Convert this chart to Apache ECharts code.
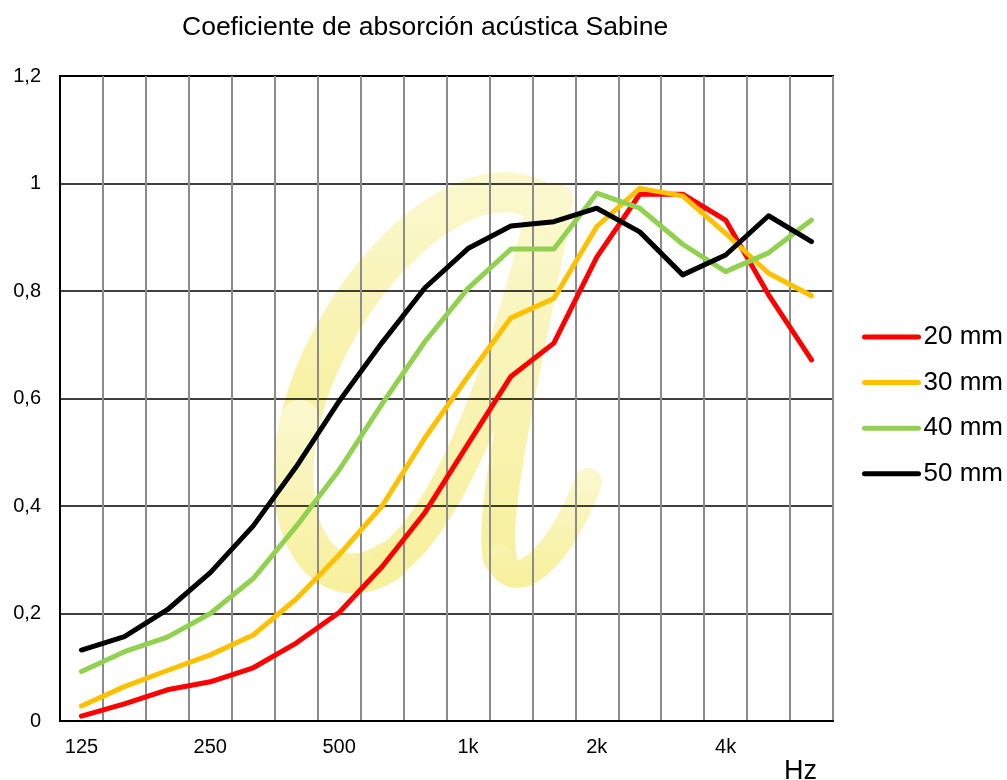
<!DOCTYPE html>
<html lang="es">
<head>
  <meta charset="UTF-8" />
  <title>Coeficiente de absorción acústica Sabine</title>
  <style>
    html, body { margin: 0; padding: 0; background: #fff; }
    #chart { width: 1007px; height: 780px; }
  </style>
  <script src="https://cdn.jsdelivr.net/npm/echarts@6/dist/echarts.min.js"></script>
</head>
<body>
  <div id="chart"></div>

  <script>
    // bandas de tercio de octava
    var bands = ['125', '160', '200', '250', '315', '400', '500', '630', '800',
                 '1k', '1.25k', '1.6k', '2k', '2.5k', '3.15k', '4k', '5k', '6.3k'];

    var mm20 = [0.009, 0.032, 0.058, 0.073, 0.099, 0.145, 0.202, 0.287, 0.388,
                0.515, 0.641, 0.703, 0.863, 0.980, 0.980, 0.932, 0.793, 0.672];
    var mm30 = [0.028, 0.064, 0.094, 0.123, 0.160, 0.227, 0.309, 0.400, 0.527,
                0.641, 0.750, 0.786, 0.920, 0.991, 0.977, 0.907, 0.833, 0.791];
    var mm40 = [0.092, 0.129, 0.156, 0.200, 0.265, 0.362, 0.467, 0.590, 0.706,
                0.805, 0.878, 0.878, 0.982, 0.954, 0.887, 0.836, 0.871, 0.932];
    var mm50 = [0.132, 0.157, 0.207, 0.276, 0.363, 0.473, 0.595, 0.704, 0.806,
                0.879, 0.921, 0.929, 0.954, 0.910, 0.830, 0.867, 0.940, 0.892];

    var seriesNames = ['20 mm', '30 mm', '40 mm', '50 mm'];
    var seriesColors = ['#ff0000', '#ffc000', '#92d050', '#000000'];

    var font = 'Liberation Sans, Arial, sans-serif';

    var chart = echarts.init(document.getElementById('chart'));

    function lineSeries(i, values) {
      return {
        name: seriesNames[i],
        type: 'line',
        data: values,
        symbol: 'none',
        lineStyle: { color: seriesColors[i], width: 5, cap: 'round', join: 'round' },
        itemStyle: { color: seriesColors[i] },
        z: 5 + i
      };
    }

    // marca de agua (letra "a" amarilla), solo decoracion
    var wmColor = {
      type: 'linear', x: 0, y: 0, x2: 0, y2: 1,
      colorStops: [{ offset: 0, color: '#fbf8cf' }, { offset: 1, color: '#f7f09c' }]
    };
    function stroke(p, w) {
      return {
        type: 'bezierCurve',
        z: -10,
        silent: true,
        shape: { x1: p[0], y1: p[1], cpx1: p[2], cpy1: p[3], cpx2: p[4], cpy2: p[5], x2: p[6], y2: p[7] },
        style: { fill: null, stroke: wmColor, lineWidth: w, lineCap: 'round' }
      };
    }

    var option = {
      animation: false,
      title: {
        text: 'Coeficiente de absorción acústica Sabine',
        left: 177,
        top: 9,
        textStyle: { fontFamily: font, fontSize: 26.5, fontWeight: 'normal', color: '#000' }
      },
      legend: {
        orient: 'vertical',
        left: 857,
        top: 319,
        itemWidth: 54,
        itemHeight: 25,
        itemGap: 19.6,
        itemStyle: { opacity: 0 },
        lineStyle: { width: 5, cap: 'round' },
        textStyle: { fontFamily: font, fontSize: 26, color: '#000' },
        data: seriesNames
      },
      graphic: [
        stroke([545, 205, 470, 150, 335, 280, 300, 420], 40),
        stroke([300, 420, 274, 540, 330, 600, 388, 562], 40),
        stroke([388, 562, 450, 520, 510, 360, 545, 205], 36),
        stroke([556, 200, 536, 320, 488, 510, 500, 558], 34),
        stroke([500, 558, 512, 598, 560, 560, 588, 482], 28),
        {
          type: 'text',
          left: 784,
          top: 758,
          style: { text: 'Hz', fontFamily: font, fontSize: 27, fill: '#000' }
        }
      ],
      grid: {
        left: 60,
        right: 174,
        top: 76,
        bottom: 59,
        show: true,
        borderColor: '#000',
        borderWidth: 2,
        backgroundColor: 'transparent'
      },
      xAxis: {
        type: 'category',
        data: bands,
        boundaryGap: true,
        axisLine: { show: true, lineStyle: { color: '#000', width: 2 } },
        axisTick: { show: false },
        axisLabel: {
          interval: 2,
          margin: 16,
          fontFamily: font,
          fontSize: 20,
          color: '#000'
        },
        splitLine: {
          show: true,
          interval: 0,
          lineStyle: { color: '#8c8c8c', width: 2 }
        }
      },
      yAxis: {
        type: 'value',
        min: 0,
        max: 1.2,
        interval: 0.2,
        axisLine: { show: true, lineStyle: { color: '#000', width: 2 } },
        axisTick: { show: false },
        axisLabel: {
          margin: 19,
          fontFamily: font,
          fontSize: 20,
          color: '#000',
          formatter: function (v) { return String(+v.toFixed(1)).replace('.', ','); }
        },
        splitLine: { show: true, lineStyle: { color: '#000', width: 1.5 } }
      },
      series: [
        lineSeries(0, mm20),
        lineSeries(1, mm30),
        lineSeries(2, mm40),
        lineSeries(3, mm50)
      ]
    };

    chart.setOption(option);
  </script>
</body>
</html>
